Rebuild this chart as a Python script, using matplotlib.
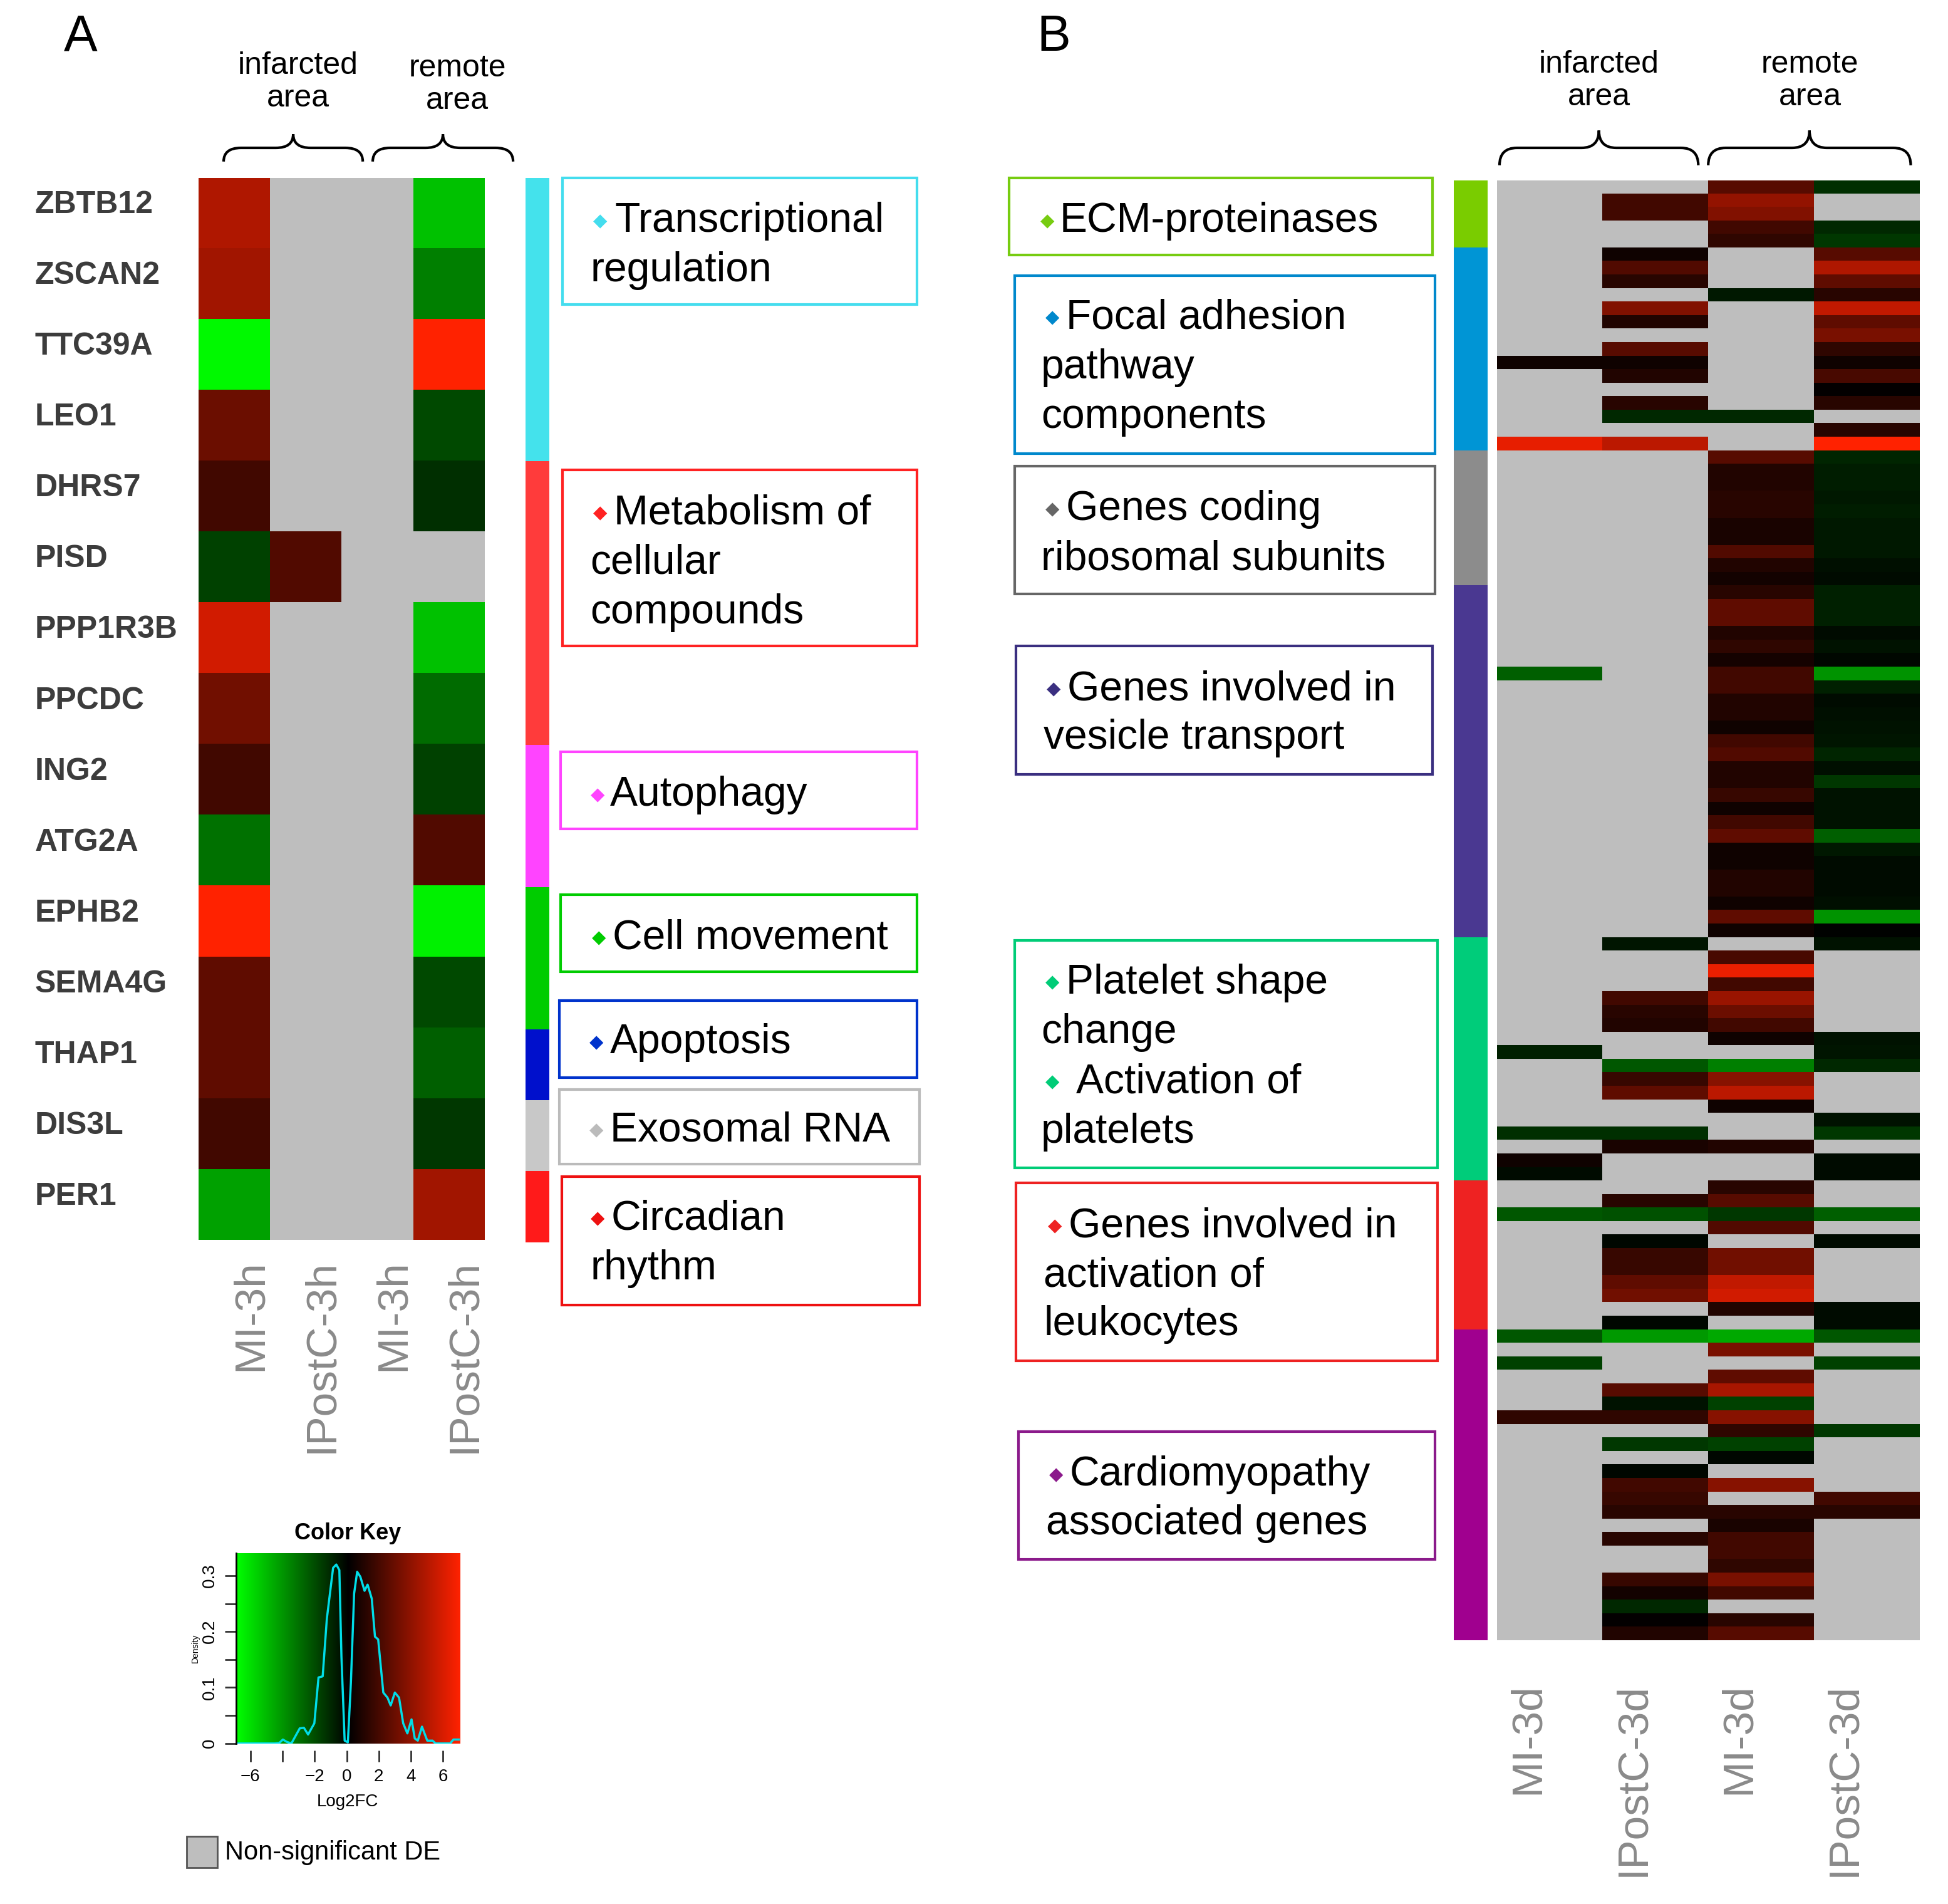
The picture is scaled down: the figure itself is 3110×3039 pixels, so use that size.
import numpy as np
import matplotlib
matplotlib.use('Agg')
import matplotlib.pyplot as plt
import matplotlib.transforms as mtransforms
from matplotlib.colors import LinearSegmentedColormap, ListedColormap
from matplotlib.patches import Rectangle, PathPatch
from matplotlib.path import Path

FONT = ['Liberation Sans', 'DejaVu Sans']
plt.rcParams['font.family'] = FONT

N = np.nan

# ---------------- panel A data (log2FC, NaN = non-significant) ----------------
genes_a = ['ZBTB12', 'ZSCAN2', 'TTC39A', 'LEO1', 'DHRS7', 'PISD', 'PPP1R3B', 'PPCDC',
           'ING2', 'ATG2A', 'EPHB2', 'SEMA4G', 'THAP1', 'DIS3L', 'PER1']
cols_a = ['MI-3h', 'IPostC-3h', 'MI-3h', 'IPostC-3h']
mi_inf_3h = [4.8, 4.4, -6.8, 2.9, 1.8, -1.8, 5.7, 3.1, 1.8, -3.1, 7.0, 2.6, 2.6, 1.8, -4.4]
postc_inf_3h = [N, N, N, N, N, 2.2, N, N, N, N, N, N, N, N, N]
mi_rem_3h = [N] * 15
postc_rem_3h = [-5.3, -3.5, 7.0, -2.0, -1.3, N, -5.3, -2.9, -1.8, 2.2, -6.6, -2.0, -2.6, -1.5, 4.4]
groups_a = [0, 0, 0, 0, 1, 1, 1, 1, 2, 2, 3, 3, 4, 5, 6]
group_colors_a = ['#44E2EC', '#FF3B3B', '#FF44FF', '#00CC00', '#0010CC', '#C8C8C8', '#FF1A1A']

# ---------------- panel B data ----------------
cols_b = ['MI-3d', 'IPostC-3d', 'MI-3d', 'IPostC-3d']
group_sizes_b = [5, 15, 10, 26, 18, 11, 23]
group_colors_b = ['#7ACC00', '#0095D5', '#8C8C8C', '#4A3891', '#00CC7A', '#EE2222', '#A0008F']

mi_inf_3d = ([N, N, N, N, N] +
             [N, N, N, N, N, N, N, N, 0.4, N, N, N, N, N, 6.3] +
             [N] * 10 +
             [N] * 6 + [-2.6] + [N] * 19 +
             [N, N, N, N, N, N, N, N, -0.9, N, N, N, N, N, -1.3, N, 0.4, -0.3] +
             [N, N, -2.4, N, N, N, N, N, N, N, N] +
             [-2.4, N, -1.8, N, N, N, 1.3] + [N] * 16)
postc_inf_3d = ([N, 1.8, 1.8, N, N] +
                [0.4, 2.2, 1.1, N, 3.5, 0.9, N, 2.4, 0.4, 0.9, N, 1.1, -1.1, N, 5.1] +
                [N] * 10 +
                [N] * 26 +
                [-0.6, N, N, N, 1.8, 1.1, 0.9, N, N, -2.4, 1.5, 2.6, N, N, -1.3, 0.7, N, N] +
                [N, 1.1, -2.2, N, -0.2, 1.5, 1.5, 2.6, 3.1, N, -0.2] +
                [-4.2, N, N, N, 2.4, -0.5, 1.3, N, -1.5, N, -0.2, 1.8, 1.5, 1.1, N, 1.1,
                 N, N, 1.5, 0.5, -1.1, 0.1, 0.9])
mi_rem_3d = ([2.4, 4.0, 3.5, 1.8, 1.3] +
             [N, N, N, -0.7, N, N, N, N, N, N, N, N, -1.1, N, N] +
             [2.4, 0.9, 0.9, 1.1, 1.1, 0.7, 0.7, 2.2, 0.9, 0.5] +
             [1.1, 2.6, 2.6, 0.9, 1.3, 0.6, 1.8, 1.8, 0.9, 0.9, 0.4, 1.8, 2.2, 0.9, 0.9,
              1.5, 0.4, 1.8, 2.6, 0.4, 0.4, 0.9, 0.9, 0.4, 2.6, 0.4] +
             [N, 2.0, 6.4, 1.8, 4.2, 2.9, 1.8, 0.4, N, -3.5, 3.7, 5.1, 0.4, N, N, 0.9, N, N] +
             [1.1, 2.4, -1.5, 2.2, N, 3.1, 3.1, 5.3, 5.7, 0.9, N] +
             [-4.6, 3.3, N, 2.6, 4.6, -1.8, 3.7, 1.3, -1.8, -0.2, N, 3.7, N, 1.1, 0.7,
              1.8, 1.8, 1.3, 3.3, 1.8, N, 1.1, 2.4])
postc_rem_3d = ([-1.3, N, N, -1.1, -1.5] +
                [2.4, 4.8, 2.6, 1.1, 5.3, 2.6, 3.3, 1.3, 0.4, 2.0, 0.1, 1.1, N, 1.1, 7.0] +
                [-1.0, -0.8, -0.8, -0.7, -0.8, -0.7, -0.7, -0.7, -0.4, -0.3] +
                [-0.9, -0.9, -0.9, -0.3, -0.5, -0.2, -4.0, -0.9, -0.3, -0.4, -0.5, -0.6, -1.0,
                 -0.4, -1.5, -0.5, -0.5, -0.5, -2.6, -0.7, -0.3, -0.3, -0.3, -0.4, -4.0, -0.1] +
                [-0.5, N, N, N, N, N, N, -0.5, -0.6, -1.1, N, N, N, -0.5, -1.5, N, -0.3, -0.3] +
                [N, N, -2.6, N, -0.3, N, N, N, N, -0.3, -0.3] +
                [-2.4, N, -1.8, N, N, N, N, -1.5, N, N, N, N, 1.8, 1.1, N, N, N, N, N, N,
                 N, N, N])

# colour key density curve
density_x = [-6.9, -4.5, -4.2, -3.98, -3.75, -3.45, -2.93, -2.67, -2.41, -2.02, -1.76, -1.5,
             -1.24, -0.85, -0.65, -0.46, -0.33, -0.13, 0.07, 0.26, 0.46, 0.65, 0.85, 1.11,
             1.3, 1.56, 1.76, 1.96, 2.28, 2.54, 2.74, 3.0, 3.26, 3.52, 3.78, 4.04, 4.24,
             4.43, 4.69, 5.02, 5.35, 5.54, 6.45, 6.65, 7.04]
density_y = [0.0, 0.0, 0.001, 0.007, 0.003, 0.0, 0.027, 0.028, 0.016, 0.036, 0.118, 0.12,
             0.223, 0.314, 0.32, 0.31, 0.155, 0.005, 0.002, 0.109, 0.268, 0.307, 0.298, 0.273,
             0.284, 0.259, 0.191, 0.186, 0.091, 0.082, 0.068, 0.091, 0.082, 0.036, 0.018,
             0.043, 0.009, 0.005, 0.03, 0.005, 0.005, 0.0, 0.0, 0.007, 0.007]
key_xticks = [-6, -4, -2, 0, 2, 4, 6]
key_xlabels = ['\u22126', '', '\u22122', '0', '2', '4', '6']
key_yticks = [0, 0.05, 0.1, 0.15, 0.2, 0.25, 0.3]
key_ylabels = ['0', '', '0.1', '', '0.2', '', '0.3']

# ---------------- layout helpers (coords measured on a 1568 px wide view) ----------------
W, H = 3110, 3039
K = 3110 / 1568


def fx(x):
    return K * x / W


def fy(y):
    return 1 - K * y / H


def rect(x0, y0, x1, y1):
    return [fx(x0), fy(y1), fx(x1) - fx(x0), fy(y0) - fy(y1)]


cmap = LinearSegmentedColormap.from_list('gkr', ['#00FF00', '#000000', '#FF2200'])
cmap = cmap.with_extremes(bad='#BEBEBE')

fig = plt.figure(figsize=(W / 100, H / 100), dpi=100)


def heatmap(pos, cols, labels, pad, shift):
    ax = fig.add_axes(pos)
    mat = np.ma.masked_invalid(np.column_stack(cols))
    ax.imshow(mat, cmap=cmap, vmin=-7, vmax=7, aspect='auto', interpolation='nearest')
    for s in ax.spines.values():
        s.set_visible(False)
    ax.set_yticks([])
    ax.set_xticks(range(len(labels)))
    ax.set_xticklabels(labels, rotation=90, fontsize=50, color='#8A8A8A')
    ax.tick_params(axis='x', length=0, pad=pad)
    off = mtransforms.ScaledTranslation(shift, 0, fig.dpi_scale_trans)
    for lab in ax.get_xticklabels():
        lab.set_transform(lab.get_transform() + off)
    return ax


def sidebar(pos, groups, colors):
    ax = fig.add_axes(pos)
    ax.imshow(np.array(groups)[:, None], cmap=ListedColormap(colors), vmin=-0.5,
              vmax=len(colors) - 0.5, aspect='auto', interpolation='nearest')
    ax.set_axis_off()


def brace(x0, x1, ytip, ypeak):
    xm = (x0 + x1) / 2
    ymid = (ytip + ypeak) / 2
    q = 14
    pts = [(x0, ytip), (x0, ymid), (x0 + q, ymid), (xm - q, ymid), (xm, ymid), (xm, ypeak),
           (xm, ymid), (xm + q, ymid), (x1 - q, ymid), (x1, ymid), (x1, ytip)]
    codes = [Path.MOVETO, Path.CURVE3, Path.CURVE3, Path.LINETO, Path.CURVE3, Path.CURVE3,
             Path.CURVE3, Path.CURVE3, Path.LINETO, Path.CURVE3, Path.CURVE3]
    verts = [(fx(x), fy(y)) for x, y in pts]
    fig.add_artist(PathPatch(Path(verts, codes), transform=fig.transFigure, fill=False,
                             lw=3, edgecolor='black'))


def label_box(x0, y0, x1, y1, color, lines):
    fig.add_artist(Rectangle((fx(x0), fy(y1)), fx(x1) - fx(x0), fy(y0) - fy(y1),
                             transform=fig.transFigure, fill=False, lw=3, edgecolor=color))
    for bullet_x, text_x, y, text in lines:
        y = y + 3
        if bullet_x is not None:
            fig.text(fx(bullet_x), fy(y), '\u25C6', fontsize=21, color=color, ha='center',
                     va='center', family='DejaVu Sans')
        fig.text(fx(text_x), fy(y), text, fontsize=47.5, ha='left', va='center')


# ---------------- panel A ----------------
ax_a = heatmap(rect(160, 143, 390, 998), [mi_inf_3h, postc_inf_3h, mi_rem_3h, postc_rem_3h],
               cols_a, 22, 0.25)
blend = mtransforms.blended_transform_factory(fig.transFigure, ax_a.transData)
lift = mtransforms.ScaledTranslation(0, 0.13, fig.dpi_scale_trans)
for i, g in enumerate(genes_a):
    ax_a.text(fx(28), i, g, transform=blend + lift, ha='left', va='center', fontsize=36,
              fontweight='bold', color='#3C3C3C')
sidebar(rect(423, 143, 442, 1000), groups_a, group_colors_a)

fig.text(fx(65), fy(30), 'A', fontsize=58, ha='center', va='center')
fig.text(fx(240), fy(66), 'infarcted\narea', fontsize=36, ha='center', va='center',
         linespacing=1.15)
fig.text(fx(368), fy(68), 'remote\narea', fontsize=36, ha='center', va='center',
         linespacing=1.15)
brace(180, 292, 130, 108)
brace(300, 413, 130, 108)

label_box(453, 143, 738, 245, '#44DDEE', [(483, 495, 175, 'Transcriptional'),
                                          (None, 475, 215, 'regulation')])
label_box(453, 378, 738, 520, '#FF2222', [(483, 494, 410, 'Metabolism of'),
                                          (None, 475, 450, 'cellular'),
                                          (None, 475, 490, 'compounds')])
label_box(451, 605, 738, 667, '#FF44FF', [(481, 491, 637, 'Autophagy')])
label_box(451, 720, 738, 782, '#00CC00', [(482, 493, 752, 'Cell movement')])
label_box(450, 805, 738, 867, '#0033CC', [(480, 491, 836, 'Apoptosis')])
label_box(450, 877, 740, 937, '#BBBBBB', [(480, 491, 907, 'Exosomal RNA')])
label_box(452, 947, 740, 1050, '#EE1111', [(481, 492, 978, 'Circadian'),
                                           (None, 475, 1018, 'rhythm')])

# colour key
kax = fig.add_axes(rect(190, 1250, 370, 1403))
grad = np.linspace(-7, 7, 256)[None, :]
kax.imshow(grad, cmap=cmap, vmin=-7, vmax=7, extent=[-6.9, 7.04, 0, 0.34], aspect='auto')
kax.plot(density_x, density_y, color='#00DDE8', lw=2.5)
kax.set_xlim(-6.9, 7.04)
kax.set_ylim(0, 0.34)
kax.spines['top'].set_visible(False)
kax.spines['right'].set_visible(False)
kax.spines['bottom'].set_position(('outward', 8))
kax.spines['bottom'].set_visible(False)
kax.spines['left'].set_linewidth(2)
kax.set_xticks(key_xticks)
kax.set_xticklabels(key_xlabels, fontsize=20)
kax.set_yticks(key_yticks)
kax.set_yticklabels(key_ylabels, fontsize=20, rotation=90, va='center')
kax.tick_params(length=13, width=2, color='#333333', pad=8)
kax.set_title('Color Key', fontsize=26, fontweight='bold', pad=16)
kax.set_xlabel('Log2FC', fontsize=20, labelpad=10)
kax.set_ylabel('Density', fontsize=10, labelpad=2)

fig.add_artist(Rectangle((fx(150), fy(1503)), fx(175) - fx(150), fy(1478) - fy(1503),
                         transform=fig.transFigure, facecolor='#BEBEBE', edgecolor='#555555',
                         lw=2))
fig.text(fx(181), fy(1491), 'Non-significant DE', fontsize=30, ha='left', va='center')

# ---------------- panel B ----------------
groups_b = np.repeat(np.arange(len(group_sizes_b)), group_sizes_b)
heatmap(rect(1205, 145, 1545, 1320), [mi_inf_3d, postc_inf_3d, mi_rem_3d, postc_rem_3d],
        cols_b, 49, -0.36)
sidebar(rect(1170, 145, 1197, 1320), groups_b, group_colors_b)

fig.text(fx(848), fy(30), 'B', fontsize=58, ha='center', va='center')
fig.text(fx(1287), fy(65), 'infarcted\narea', fontsize=36, ha='center', va='center',
         linespacing=1.15)
fig.text(fx(1457), fy(65), 'remote\narea', fontsize=36, ha='center', va='center',
         linespacing=1.15)
brace(1207, 1367, 133, 105)
brace(1375, 1538, 133, 105)

label_box(812, 143, 1153, 205, '#77CC11', [(843, 853, 175, 'ECM-proteinases')])
label_box(817, 222, 1155, 365, '#0088CC', [(847, 858, 253, 'Focal adhesion'),
                                           (None, 838, 293, 'pathway'),
                                           (None, 838, 333, 'components')])
label_box(817, 375, 1155, 478, '#666666', [(847, 858, 407, 'Genes coding'),
                                           (None, 838, 447, 'ribosomal subunits')])
label_box(818, 520, 1153, 623, '#3A2F80', [(848, 859, 552, 'Genes involved in'),
                                           (None, 840, 591, 'vesicle transport')])
label_box(817, 757, 1157, 940, '#00CC77', [(847, 858, 788, 'Platelet shape'),
                                           (None, 838, 828, 'change'),
                                           (847, 866, 868, 'Activation of'),
                                           (None, 838, 908, 'platelets')])
label_box(818, 952, 1157, 1095, '#EE2222', [(849, 860, 984, 'Genes involved in'),
                                            (None, 840, 1024, 'activation of'),
                                            (None, 840, 1063, 'leukocytes')])
label_box(820, 1152, 1155, 1255, '#8B1A8B', [(850, 861, 1184, 'Cardiomyopathy'),
                                             (None, 842, 1223, 'associated genes')])

fig.savefig('out.png', dpi=100)
